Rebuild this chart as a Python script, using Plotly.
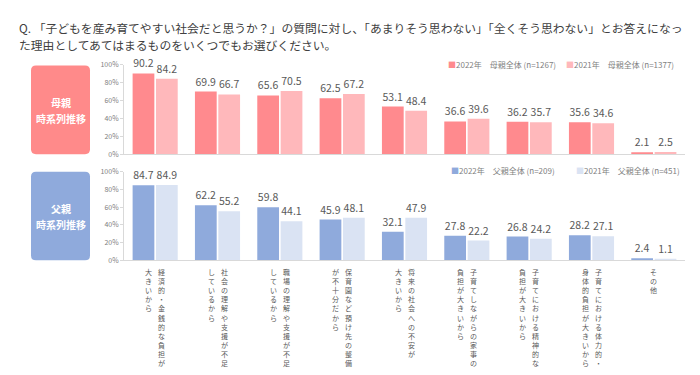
import plotly.graph_objects as go

W, H = 700, 375
def px(x): return x / W
def py(y): return 1 - y / H

title_lines = [
    "Q. 「子どもを産み育てやすい社会だと思うか？」の質問に対し、「あまりそう思わない」「全くそう思わない」とお答えになっ",
    "た理由としてあてはまるものをいくつでもお選びください。",
]

label_lines = [
    ["経済的・金銭的な負担が", "大きいから"],
    ["社会の理解や支援が不足", "しているから"],
    ["職場の理解や支援が不足", "しているから"],
    ["保育園など預け先の整備", "が不十分だから"],
    ["将来の社会への不安が", "大きいから"],
    ["子育てしながらの家事の", "負担が大きいから"],
    ["子育てにおける精神的な", "負担が大きいから"],
    ["子育てにおける体力的・", "身体的負担が大きいから"],
    ["その他"],
]
categories = ["".join(l) for l in label_lines]

mother_2022 = [90.2, 69.9, 65.6, 62.5, 53.1, 36.6, 36.2, 35.6, 2.1]
mother_2021 = [84.2, 66.7, 70.5, 67.2, 48.4, 39.6, 35.7, 34.6, 2.5]
father_2022 = [84.7, 62.2, 59.8, 45.9, 32.1, 27.8, 26.8, 28.2, 2.4]
father_2021 = [84.9, 55.2, 44.1, 48.1, 47.9, 22.2, 24.2, 27.1, 1.1]

series_names_top = ["2022年　母親全体 (n=1267)", "2021年　母親全体 (n=1377)"]
series_names_bot = ["2022年　父親全体 (n=209)", "2021年　父親全体 (n=451)"]
panel_titles = [["母親", "時系列推移"], ["父親", "時系列推移"]]

y_tickvals = [0, 20, 40, 60, 80, 100]
y_ticktext = ["0%", "20%", "40%", "60%", "80%", "100%"]

C_M22, C_M21 = "#FF8A8E", "#FFB8BB"
C_F22, C_F21 = "#8FAADC", "#DAE3F3"
C_MBOX, C_FBOX = "#FF8A8A", "#8FAADC"
FONT = "Noto Sans CJK JP"
TXT = "#595959"

fig = go.Figure()

def bar(y, color, name, xa, ya):
    return go.Bar(
        x=categories, y=y, name=name, marker=dict(color=color, line=dict(width=0)),
        text=[f"{v:.1f}" for v in y], textposition="outside", cliponaxis=False,
        constraintext="none", textfont=dict(size=10.5, color=TXT, family=FONT),
        xaxis=xa, yaxis=ya, showlegend=False, hoverinfo="x+y",
    )

fig.add_trace(bar(mother_2022, C_M22, series_names_top[0], "x", "y"))
fig.add_trace(bar(mother_2021, C_M21, series_names_top[1], "x", "y"))
fig.add_trace(bar(father_2022, C_F22, series_names_bot[0], "x2", "y2"))
fig.add_trace(bar(father_2021, C_F21, series_names_bot[1], "x2", "y2"))

xdom = [px(116), px(677)]
xaxis_common = dict(domain=xdom, showticklabels=False, ticks="", showline=True,
                    linecolor="#D9D9D9", linewidth=1, showgrid=False, zeroline=False)
yaxis_common = dict(range=[0, 100], tickvals=y_tickvals, ticktext=y_ticktext,
                    showline=True, linecolor="#D9D9D9", linewidth=1, ticks="outside",
                    ticklen=3, tickcolor="#D9D9D9", showgrid=False, zeroline=False,
                    tickfont=dict(size=7, color="#808080", family=FONT))

fig.update_layout(
    width=W, height=H, margin=dict(l=0, r=0, t=0, b=0),
    paper_bgcolor="white", plot_bgcolor="white",
    barmode="group", bargap=0.25, bargroupgap=0.07,
    font=dict(family=FONT, color=TXT),
    xaxis=dict(anchor="y", **xaxis_common),
    yaxis=dict(anchor="x", domain=[py(144), py(52)], **yaxis_common),
    xaxis2=dict(anchor="y2", **xaxis_common),
    yaxis2=dict(anchor="x2", domain=[py(253), py(162)], **yaxis_common),
)

ann = []
# title
for i, line in enumerate(title_lines):
    ann.append(dict(text=line, x=px(9), y=py(14 + 17 * i), xref="paper", yref="paper",
                    xanchor="left", yanchor="middle", showarrow=False,
                    font=dict(size=11.8, color="#404040", family=FONT)))

# rounded panel boxes
def rounded(x0, y0, x1, y1, r):
    X0, X1 = px(x0), px(x1)
    Y0, Y1 = py(y0), py(y1)
    rx, ry = r / W, r / H
    return (f"M {X0+rx},{Y0} L {X1-rx},{Y0} Q {X1},{Y0} {X1},{Y0-ry} "
            f"L {X1},{Y1+ry} Q {X1},{Y1} {X1-rx},{Y1} L {X0+rx},{Y1} "
            f"Q {X0},{Y1} {X0},{Y1+ry} L {X0},{Y0-ry} Q {X0},{Y0} {X0+rx},{Y0} Z")

shapes = [
    dict(type="path", path=rounded(23, 53, 82, 144, 5), xref="paper", yref="paper",
         fillcolor=C_MBOX, line=dict(width=0)),
    dict(type="path", path=rounded(23, 162, 82, 253, 5), xref="paper", yref="paper",
         fillcolor=C_FBOX, line=dict(width=0)),
]
fig.update_layout(shapes=shapes)

for (t1, t2), cy in zip(panel_titles, [99, 208]):
    for k, t in enumerate([t1, t2]):
        ann.append(dict(text=f"<b>{t}</b>", x=px(52.5), y=py(cy - 8.5 + 17 * k),
                        xref="paper", yref="paper", xanchor="center", yanchor="middle",
                        showarrow=False, font=dict(size=10, color="white", family=FONT)))

# legends as text
def legend_row(names, colors, y, xs):
    for n, c, x in zip(names, colors, xs):
        ann.append(dict(text=f"<span style='color:{c}'>■</span>{n}", x=px(x), y=py(y),
                        xref="paper", yref="paper", xanchor="left", yanchor="middle",
                        showarrow=False, font=dict(size=8, color="#7F7F7F", family=FONT)))

legend_row(series_names_top, [C_M22, C_M21], 52, [438, 556])
legend_row(series_names_bot, [C_F22, C_F21], 161, [441, 566])

# vertical (tategaki) category labels: one column per line, one char per row
for cat, lines in zip(categories, label_lines):
    n = len(lines)
    for j, line in enumerate(lines):
        xs = 0 if n == 1 else (6.5 - 13 * j)
        ann.append(dict(text="<br>".join(line), x=cat, xref="x2", y=py(259), yref="paper",
                        xshift=xs, xanchor="center", yanchor="top", showarrow=False,
                        borderpad=0, font=dict(size=7, color=TXT, family=FONT)))

fig.update_layout(annotations=ann)
fig.write_html("out.html")
